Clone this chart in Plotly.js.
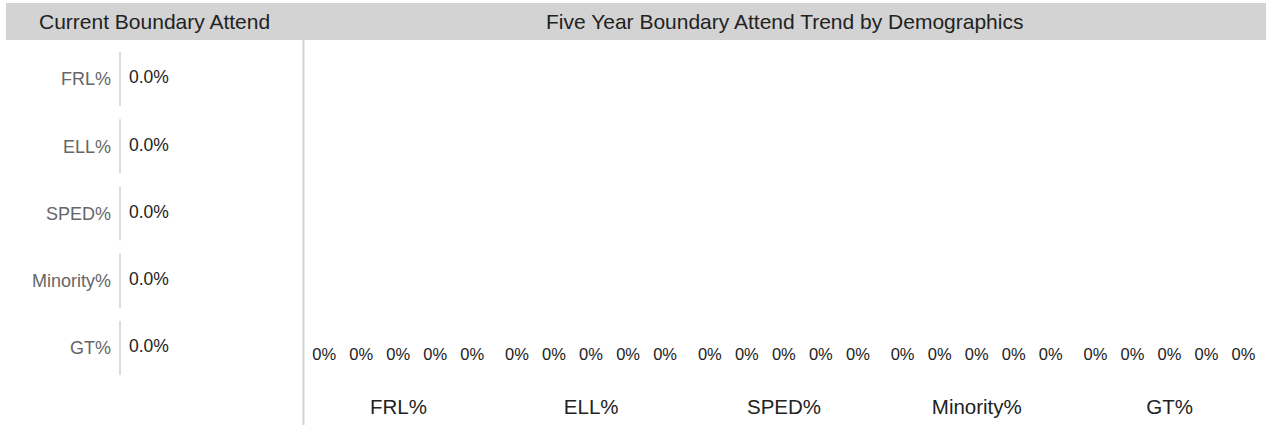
<!DOCTYPE html>
<html>
<head>
<meta charset="utf-8">
<script src="https://cdn.plot.ly/plotly-3.0.1.min.js"></script>
<style>html,body{margin:0;padding:0;background:#fff;}#chart{width:1268px;height:425px;}</style>
</head>
<body>
<div id="chart"></div>
<script>
// Data
const demographics = ["FRL%", "ELL%", "SPED%", "Minority%", "GT%"];
const currentValues = [0.0, 0.0, 0.0, 0.0, 0.0];
const yearNames = ["Year 1", "Year 2", "Year 3", "Year 4", "Year 5"];
const trendYear1 = [0, 0, 0, 0, 0];
const trendYear2 = [0, 0, 0, 0, 0];
const trendYear3 = [0, 0, 0, 0, 0];
const trendYear4 = [0, 0, 0, 0, 0];
const trendYear5 = [0, 0, 0, 0, 0];
const trendSeries = [trendYear1, trendYear2, trendYear3, trendYear4, trendYear5];

const W = 1268, H = 425;
const px = v => v / W;
const py = v => 1 - v / H;
const FONT = "Liberation Sans, Arial, sans-serif";

const traces = [];
// left panel: current values as text
traces.push({
  type: "scatter", mode: "text",
  x: currentValues, y: demographics,
  text: currentValues.map(v => v.toFixed(1) + "%"),
  textposition: "middle right",
  textfont: {family: FONT, size: 17.5, color: "#222"},
  xaxis: "x", yaxis: "y", hoverinfo: "skip", showlegend: false, cliponaxis: false
});
// right panel: grouped bars
trendSeries.forEach((vals, i) => {
  traces.push({
    type: "bar", x: demographics, y: vals, name: yearNames[i],
    text: vals.map(v => v.toFixed(0) + "%"),
    textposition: "outside",
    textfont: {family: FONT, size: 16.5, color: "#222"},
    marker: {color: "#4472c4"},
    xaxis: "x2", yaxis: "y2", cliponaxis: false, showlegend: false, hoverinfo: "skip"
  });
});

const shapes = [
  {type: "rect", xref: "paper", yref: "paper", x0: px(6), x1: px(1266), y0: py(40), y1: py(3),
   fillcolor: "#d3d3d3", line: {width: 0}, layer: "below"},
  {type: "line", xref: "paper", yref: "paper", x0: px(303.5), x1: px(303.5), y0: py(40), y1: 0,
   line: {color: "#d3d3d3", width: 2}}
];
demographics.forEach((d, i) => {
  shapes.push({type: "line", xref: "paper", yref: "y", x0: px(120), x1: px(120), y0: i - 0.4, y1: i + 0.4,
    line: {color: "#d0d0d0", width: 1.5}});
});

const layout = {
  width: W, height: H,
  margin: {l: 0, r: 0, t: 0, b: 0},
  paper_bgcolor: "#fff", plot_bgcolor: "#fff",
  font: {family: FONT, color: "#222"},
  showlegend: false,
  barmode: "group", bargap: 0.04, bargroupgap: 0,
  xaxis: {domain: [px(129), px(300)], range: [0, 1], visible: false, fixedrange: true},
  yaxis: {domain: [py(381.6), py(45.4)], type: "category", range: [4.5, -0.5],
    showgrid: false, zeroline: false, showline: false, ticks: "", ticklabelstandoff: 17,
    tickfont: {family: FONT, size: 18, color: "#666"}, anchor: "x"},
  xaxis2: {domain: [px(302), px(1266)], type: "category", showgrid: false, zeroline: false,
    showline: false, ticks: "", ticklabelstandoff: 26, anchor: "y2",
    tickfont: {family: FONT, size: 20.5, color: "#222"}},
  yaxis2: {domain: [py(366), py(44)], range: [0, 1], visible: false, anchor: "x2"},
  shapes: shapes,
  annotations: [
    {text: "Current Boundary Attend", xref: "paper", yref: "paper", x: px(154.5), y: py(21.5),
     xanchor: "center", yanchor: "middle", showarrow: false, font: {family: FONT, size: 21, color: "#222"}},
    {text: "Five Year Boundary Attend Trend by Demographics", xref: "paper", yref: "paper", x: px(784.5), y: py(21.5),
     xanchor: "center", yanchor: "middle", showarrow: false, font: {family: FONT, size: 21, color: "#222"}}
  ]
};

Plotly.newPlot("chart", traces, layout, {displayModeBar: false, staticPlot: true});
</script>
</body>
</html>
